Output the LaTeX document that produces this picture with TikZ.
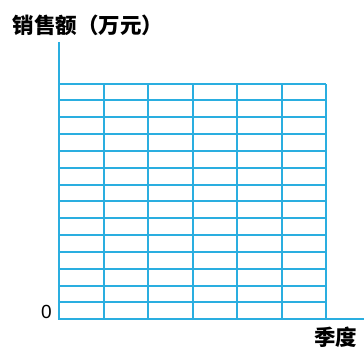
\documentclass[tikz,border=0pt]{standalone}
\usepackage{fontspec}
\newfontfamily\cjk{Noto Sans CJK SC}
\setmainfont{Liberation Sans}
\usetikzlibrary{positioning}

\begin{document}
\begin{tikzpicture}[x=1pt,y=1pt]
  \definecolor{gridblue}{HTML}{2AAEE0}
  \tikzstyle{grid line}=[draw=gridblue, line width=2pt]
  \tikzstyle{axis label}=[font=\cjk\bfseries\fontsize{21.5}{21.5}\selectfont, inner sep=0pt]

  \useasboundingbox (0,0) rectangle (364,349);
  \coordinate (o) at (59,29.7);
  \coordinate (ytop) at (59,307);
  \coordinate (xend) at (364,29.7);

  % grid
  \foreach \i in {1,...,14}
    \draw[grid line] (59,29.7+\i*16.84) -- (326,29.7+\i*16.84);
  \foreach \j in {1,...,6}
    \draw[grid line] (59+\j*44.5,29.7) -- (59+\j*44.5,265.5);

  % axes
  \draw[grid line] (ytop) -- (o) -- (xend);

  \node[axis label] (ylabel) at (88,324) {销售额（万元）};
  \node[axis label] (xlabel) at (335.5,12) {季度};
  \node[inner sep=0pt, anchor=south east, font=\fontsize{19}{19}\selectfont]
    (zero) at ([xshift=-7pt]o) {0};
\end{tikzpicture}
\end{document}
